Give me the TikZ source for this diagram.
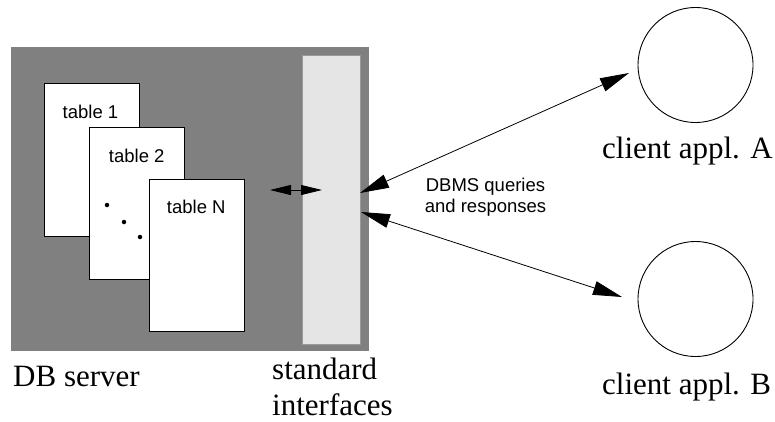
\documentclass[tikz,border=0pt]{standalone}
\usepackage{fontspec}
\setmainfont{Liberation Serif}
\newfontfamily\helv{Liberation Sans}
\usetikzlibrary{arrows.meta}
\definecolor{servergray}{HTML}{808080}
\definecolor{panelgray}{HTML}{E5E5E5}
\definecolor{paneledge}{HTML}{9A9A9A}
\tikzset{
  bigtext/.style={font=\rmfamily\fontsize{31}{36}\selectfont, inner sep=0pt, anchor=base west, align=left},
  smalltext/.style={font=\helv\fontsize{18.5}{21}\selectfont, inner sep=0pt},
  sheet/.style={draw=black, fill=white, line width=0.9pt},
  client/.style={draw=black, circle, line width=0.9pt, minimum size=115pt, inner sep=0pt},
  bigarrow/.style={line width=0.8pt, {Triangle[length=29pt,width=14pt]}-{Triangle[length=29pt,width=14pt]}},
  smallarrow/.style={line width=0.8pt, {Triangle[length=21pt,width=10pt]}-{Triangle[length=21pt,width=10pt]}},
  dot/.style={circle, fill=black, inner sep=0pt, minimum size=4.5pt}
}
\begin{document}
\begin{tikzpicture}[x=1pt, y=-1pt]
\useasboundingbox (0,0) rectangle (775,421);

% database server block and its interface panel
\node[fill=servergray, inner sep=0pt, minimum width=358pt, minimum height=304pt] (server) at (190,199) {};
\node[fill=panelgray, draw=paneledge, line width=0.6pt, inner sep=0pt, minimum width=58pt, minimum height=289pt] (iface) at (331,199.5) {};

% stacked tables
\node[sheet, inner sep=0pt, minimum width=95pt, minimum height=153pt] (t1) at (91.5,159.5) {};
\node[sheet, inner sep=0pt, minimum width=95pt, minimum height=152pt] (t2) at (136.5,203) {};
\node[sheet, inner sep=0pt, minimum width=95pt, minimum height=152pt] (tN) at (196.5,255) {};
\node[smalltext, anchor=base] (l1) at (90.5,118) {table 1};
\node[smalltext, anchor=base] (l2) at (136.7,162) {table 2};
\node[smalltext, anchor=base] (lN) at (196.3,213) {table N};
\node[dot] (d1) at (107,205) {};
\node[dot] (d2) at (124,222) {};
\node[dot] (d3) at (140,237) {};

% client applications
\node[client] (ca) at (695.5,65) {};
\node[client] (cb) at (695.5,299) {};

% labels
\node[bigtext] (dbs) at (13,386) {DB server};
\node[bigtext] (std) at (272,379) {standard};
\node[bigtext] (itf) at (272,415) {interfaces};
\node[bigtext] (la) at (602,158) {client appl. A};
\node[bigtext] (lb) at (602,394) {client appl. B};
\node[smalltext, anchor=base] (q1) at (485.5,191) {DBMS queries};
\node[smalltext, anchor=base] (q2) at (485.5,212) {and responses};

% connector end points
\coordinate (tabR) at (270,190);
\coordinate (ifL) at (322,190);
\coordinate (ifA) at (360,193);
\coordinate (ifB) at (361,212);
\coordinate (cA) at (629,73);
\coordinate (cB) at (622,297);

% connectors
\draw[smallarrow] (tabR) -- (ifL);
\draw[bigarrow] (ifA) -- (cA);
\draw[bigarrow] (ifB) -- (cB);
\end{tikzpicture}
\end{document}
